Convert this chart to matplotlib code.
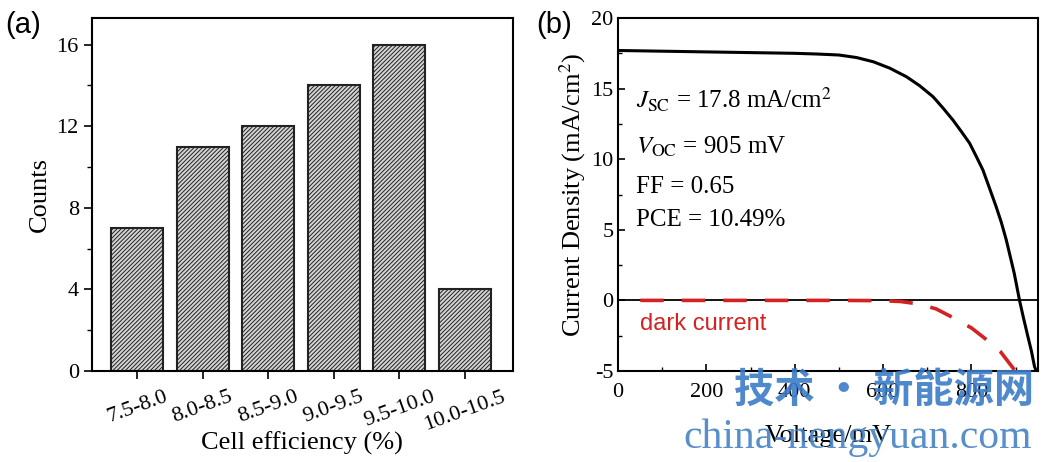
import numpy as np
import matplotlib
matplotlib.use("Agg")
import matplotlib.pyplot as plt
from matplotlib.ticker import MultipleLocator

plt.rcParams['font.family'] = ['Liberation Serif', 'DejaVu Serif']
plt.rcParams['mathtext.fontset'] = 'stix'
plt.rcParams['axes.unicode_minus'] = False
plt.rcParams['hatch.color'] = '#a4a4a4'
plt.rcParams['hatch.linewidth'] = 0.7

# (a) efficiency histogram
bins = ['7.5-8.0', '8.0-8.5', '8.5-9.0', '9.0-9.5', '9.5-10.0', '10.0-10.5']
counts = [7, 11, 12, 14, 16, 4]

# (b) J-V curves
v_light = [0, 100, 200, 300, 400, 450, 500, 540, 578, 615, 653, 683, 713, 735,
           758, 777, 796, 811, 826, 841, 856, 868, 879, 888, 897, 909, 918, 928,
           936, 943, 947]
j_light = [17.7, 17.65, 17.6, 17.55, 17.5, 17.45, 17.38, 17.2, 16.9, 16.45, 15.84,
           15.2, 14.43, 13.65, 12.78, 11.97, 11.13, 10.2, 9.24, 7.95, 6.64, 5.5,
           4.28, 3.1, 1.92, 0.0, -1.25, -2.57, -3.6, -4.7, -5.0]
v_dark = [50, 100, 200, 300, 400, 500, 600, 640, 680, 720, 760, 800, 835, 865, 897, 905]
j_dark = [0, 0, 0, 0, 0, 0, -0.02, -0.08, -0.25, -0.6, -1.25, -1.95, -2.8, -3.6, -4.9, -5.2]

fig = plt.figure(figsize=(10.46, 4.62), dpi=100)
ax1 = fig.add_axes([0.088, 0.197, 0.402, 0.764])
ax2 = fig.add_axes([0.591, 0.197, 0.401, 0.764])

# ---- panel a ----
x = np.arange(len(bins))
ax1.bar(x, counts, width=0.8, color='#d4d4d4', edgecolor='#222222',
        linewidth=1.5, hatch='////////', zorder=2)
ax1.set_xlim(-0.69, 5.73)
ax1.set_ylim(0, 17.3)
ax1.set_xticks(x)
ax1.set_xticklabels(bins, rotation=20, ha='center')
ax1.set_yticks([0, 4, 8, 12, 16])
ax1.yaxis.set_minor_locator(MultipleLocator(2))
ax1.tick_params(axis='both', which='major', labelsize=16, direction='out',
                length=6, width=1.2)
ax1.tick_params(axis='y', which='minor', direction='out', length=3.5, width=1)
ax1.tick_params(axis='x', pad=6)
ax1.set_ylabel('Counts', fontsize=19)
ax1.set_xlabel('Cell efficiency (%)', fontsize=19, labelpad=-2)
for s in ax1.spines.values():
    s.set_linewidth(1.5)

# ---- panel b ----
ax2.axhline(0, color='black', lw=1.3, zorder=1)
ax2.plot(v_light, j_light, color='black', lw=2.2, zorder=3)
ax2.plot(v_dark, j_dark, color='#d42222', lw=2.6, dashes=(6.5, 5), zorder=2)
ax2.set_xlim(0, 950)
ax2.set_ylim(-5, 20)
ax2.set_xticks([0, 200, 400, 600, 800])
ax2.set_yticks([-5, 0, 5, 10, 15, 20])
ax2.xaxis.set_minor_locator(MultipleLocator(100))
ax2.yaxis.set_minor_locator(MultipleLocator(2.5))
ax2.tick_params(axis='both', which='major', labelsize=16, direction='in',
                length=5, width=1.2)
ax2.tick_params(axis='both', which='minor', direction='in', length=3, width=1)
ax2.tick_params(axis='x', pad=9)
ax2.set_ylabel('Current Density (mA/cm$^2$)', fontsize=19, labelpad=2)
ax2.set_xlabel('Voltage/mV', fontsize=19, labelpad=16)
for s in ax2.spines.values():
    s.set_linewidth(1.5)

ax2.text(40, 14.2, r'$J_{\rm SC}$ = 17.8 mA/cm$^2$', fontsize=18, va='center')
ax2.text(40, 10.9, r'$V_{\rm OC}$ = 905 mV', fontsize=18, va='center')
ax2.text(40, 8.0, 'FF = 0.65', fontsize=18, va='center')
ax2.text(40, 5.7, 'PCE = 10.49%', fontsize=18, va='center')
ax2.text(50, -1.7, 'dark current', fontsize=17, color='#d42222', va='center',
         family=['Liberation Sans', 'DejaVu Sans'])

fig.text(0.005, 0.945, '(a)', fontsize=21, family=['Liberation Sans', 'DejaVu Sans'],
         va='center')
fig.text(0.513, 0.945, '(b)', fontsize=21, family=['Liberation Sans', 'DejaVu Sans'],
         va='center')

# watermark
fig.text(0.702, 0.155, '技术 · 新能源网', fontsize=29, fontweight='bold',
         color='#3b7bc8', alpha=0.9, va='center', zorder=10,
         family=['Noto Sans CJK SC', 'DejaVu Sans'])
fig.text(0.653, 0.053, 'china-nengyuan.com', fontsize=30, color='#4682c4',
         alpha=0.9, va='center', zorder=10)

fig.savefig('out.png', dpi=100)
